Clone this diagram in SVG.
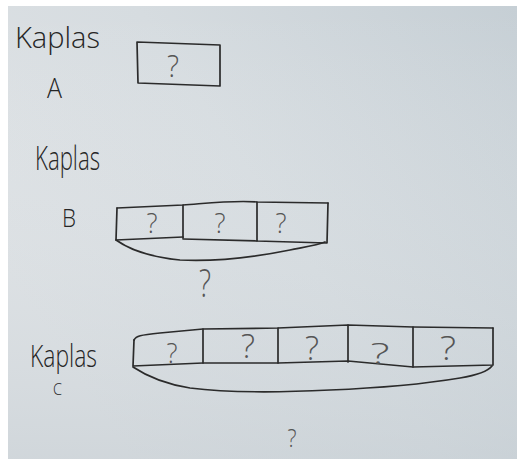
<svg xmlns="http://www.w3.org/2000/svg" width="517" height="459" viewBox="0 0 517 459">
  <defs>
    <linearGradient id="paper" x1="0" y1="0.6" x2="1" y2="0">
      <stop offset="0" stop-color="#dde1e4"/>
      <stop offset="0.45" stop-color="#d6dce0"/>
      <stop offset="1" stop-color="#c6cfd5"/>
    </linearGradient>
    <linearGradient id="shade" x1="0" y1="0" x2="0" y2="1">
      <stop offset="0" stop-color="#ffffff" stop-opacity="0"/>
      <stop offset="1" stop-color="#b9c3ca" stop-opacity="0.35"/>
    </linearGradient>
  </defs>
  <style>
    .ink { fill: none; stroke: #2b2b2b; stroke-width: 1.7; stroke-linecap: round; stroke-linejoin: round; }
    .hand { font-family: "Open Sans", "Liberation Sans", sans-serif; font-weight: 300; fill: #262626; }
    .q { font-family: "Open Sans", "Liberation Sans", sans-serif; font-weight: 300; fill: #555; text-anchor: middle; }
  </style>

  <rect x="0" y="0" width="517" height="459" fill="#ffffff"/>
  <rect x="8" y="6" width="509" height="453" fill="url(#paper)"/>
  <rect x="8" y="6" width="509" height="453" fill="url(#shade)"/>

  <!-- Kaplas A -->
  <g id="label-A">
    <text class="hand" x="15" y="48" font-size="29" textLength="85" lengthAdjust="spacingAndGlyphs">Kaplas</text>
    <text class="hand" x="47" y="98" font-size="27" textLength="15" lengthAdjust="spacingAndGlyphs">A</text>
  </g>
  <g id="box-A">
    <path class="ink" d="M137,42 L220,45 L220,86 L138,83 Z"/>
    <text class="q" x="173" y="77" font-size="32" fill="#666" textLength="12" lengthAdjust="spacingAndGlyphs">?</text>
  </g>

  <!-- Kaplas B -->
  <g id="label-B">
    <text class="hand" x="35" y="170" font-size="33" textLength="65" lengthAdjust="spacingAndGlyphs">Kaplas</text>
    <text class="hand" x="62" y="227" font-size="26" textLength="14" lengthAdjust="spacingAndGlyphs">B</text>
  </g>
  <g id="bar-B">
    <path class="ink" d="M117,208 L183,205 C210,203 235,200 257,202 L328,203"/>
    <path class="ink" d="M117,208 L116,240 L183,237"/>
    <path class="ink" d="M183,205 L183,238"/>
    <path class="ink" d="M183,239 L257,241"/>
    <path class="ink" d="M257,202 L257,241 L327,243 L328,203"/>
    <text class="q" x="152" y="233" font-size="28" textLength="11" lengthAdjust="spacingAndGlyphs">?</text>
    <text class="q" x="220" y="233" font-size="28" textLength="11" lengthAdjust="spacingAndGlyphs">?</text>
    <text class="q" x="281" y="233" font-size="28" textLength="11" lengthAdjust="spacingAndGlyphs">?</text>
  </g>
  <g id="brace-B">
    <path class="ink" d="M116,240 C130,250 150,257 180,260 C220,262 260,256 290,250 C305,247 318,245 325,242"/>
    <text class="q" x="205" y="297" font-size="38" fill="#4a4a4a" textLength="12" lengthAdjust="spacingAndGlyphs">?</text>
  </g>

  <!-- Kaplas C -->
  <g id="label-C">
    <text class="hand" x="30" y="367" font-size="32" textLength="67" lengthAdjust="spacingAndGlyphs">Kaplas</text>
    <text class="hand" x="53" y="395" font-size="17" textLength="9" lengthAdjust="spacingAndGlyphs">C</text>
  </g>
  <g id="bar-C">
    <path class="ink" d="M134,340 C136,336 140,335 160,333 L203,329 L278,328 L348,325 L413,327 L493,328"/>
    <path class="ink" d="M134,340 L133,366 L203,363 L278,363 L348,361 L413,367 L493,365 L493,328"/>
    <path class="ink" d="M203,329 L203,363"/>
    <path class="ink" d="M278,328 L278,363"/>
    <path class="ink" d="M348,325 L348,362"/>
    <path class="ink" d="M413,327 L413,367"/>
    <text class="q" x="172" y="363" font-size="28" textLength="11" lengthAdjust="spacingAndGlyphs">?</text>
    <text class="q" x="248" y="358" font-size="33" textLength="14" lengthAdjust="spacingAndGlyphs">?</text>
    <text class="q" x="312" y="360" font-size="33" fill="#3a3a3a" textLength="14" lengthAdjust="spacingAndGlyphs">?</text>
    <text class="q" x="380" y="364" font-size="30" fill="#222" font-weight="400" textLength="19" lengthAdjust="spacingAndGlyphs">?</text>
    <text class="q" x="448" y="360" font-size="33" fill="#6a6a6a" textLength="16" lengthAdjust="spacingAndGlyphs">?</text>
  </g>
  <g id="brace-C">
    <path class="ink" d="M133,367 C145,375 165,384 190,388 C230,393 290,392 330,390 C380,388 430,383 460,378 C478,375 488,371 492,366"/>
    <text class="q" x="292" y="447" font-size="25" textLength="9" lengthAdjust="spacingAndGlyphs">?</text>
  </g>
</svg>
